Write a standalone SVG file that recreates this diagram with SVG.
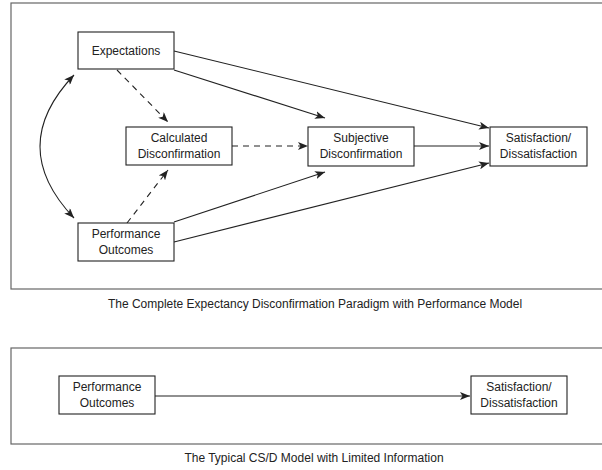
<svg xmlns="http://www.w3.org/2000/svg" width="602" height="470" viewBox="0 0 602 470">
<style>
.frame{fill:none;stroke:#666;stroke-width:1.2}
.box{fill:#fff;stroke:#222;stroke-width:1.1}
.t{font-family:"Liberation Sans",Arial,sans-serif;font-size:12px;fill:#222;text-anchor:middle}
.cap{font-family:"Liberation Sans",Arial,sans-serif;font-size:12px;fill:#222;text-anchor:middle}
.c{fill:none;stroke:#222;stroke-width:1.1}
.d{stroke-dasharray:6,5}
</style>
<defs>
<marker id="ah" viewBox="0 0 10 8" refX="10" refY="4" markerWidth="10" markerHeight="8" markerUnits="userSpaceOnUse" orient="auto-start-reverse">
<path d="M0,0 L10,4 L0,8 L2.5,4 Z" fill="#222"/>
</marker>
</defs>
<rect class="frame" x="11" y="3" width="610" height="286"/>
<rect class="frame" x="11" y="348" width="610" height="96"/>
<g id="connectors">
<path class="c" d="M174,51 L489,128" marker-end="url(#ah)"/>
<path class="c" d="M174,70 L325,118" marker-end="url(#ah)"/>
<path class="c d" d="M117,70 L168,122" marker-end="url(#ah)"/>
<path class="c d" d="M232,146 L308,146" marker-end="url(#ah)"/>
<path class="c d" d="M127,223 L168,170" marker-end="url(#ah)"/>
<path class="c" d="M174,222 L325,172" marker-end="url(#ah)"/>
<path class="c" d="M174,242 L489,163" marker-end="url(#ah)"/>
<path class="c" d="M414,146 L489,146" marker-end="url(#ah)"/>
<path class="c" d="M74,75 Q6,146.5 74,218" marker-start="url(#ah)" marker-end="url(#ah)"/>
<path class="c" d="M155,396 L470,396" marker-end="url(#ah)"/>
</g>
<g id="expectations">
<rect class="box" x="78" y="32" width="96" height="37"/>
<text class="t" x="126" y="55">Expectations</text>
</g>
<g id="calculated">
<rect class="box" x="126" y="127" width="106" height="38"/>
<text class="t" x="179" y="142">Calculated</text>
<text class="t" x="179" y="158">Disconfirmation</text>
</g>
<g id="performance">
<rect class="box" x="78" y="223" width="96" height="38"/>
<text class="t" x="126" y="238">Performance</text>
<text class="t" x="126" y="254">Outcomes</text>
</g>
<g id="subjective">
<rect class="box" x="308" y="127" width="106" height="39"/>
<text class="t" x="361" y="142">Subjective</text>
<text class="t" x="361" y="158">Disconfirmation</text>
</g>
<g id="satisfaction">
<rect class="box" x="490" y="127" width="97" height="39"/>
<text class="t" x="538.5" y="142">Satisfaction/</text>
<text class="t" x="538.5" y="158">Dissatisfaction</text>
</g>
<g id="caption1">
<text class="cap" x="315" y="308">The Complete Expectancy Disconfirmation Paradigm with Performance Model</text>
</g>
<g id="performance2">
<rect class="box" x="59" y="376" width="96" height="38"/>
<text class="t" x="107" y="391">Performance</text>
<text class="t" x="107" y="407">Outcomes</text>
</g>
<g id="satisfaction2">
<rect class="box" x="471" y="376" width="96" height="38"/>
<text class="t" x="519" y="391">Satisfaction/</text>
<text class="t" x="519" y="407">Dissatisfaction</text>
</g>
<g id="caption2">
<text class="cap" x="314" y="462">The Typical CS/D Model with Limited Information</text>
</g>
</svg>
